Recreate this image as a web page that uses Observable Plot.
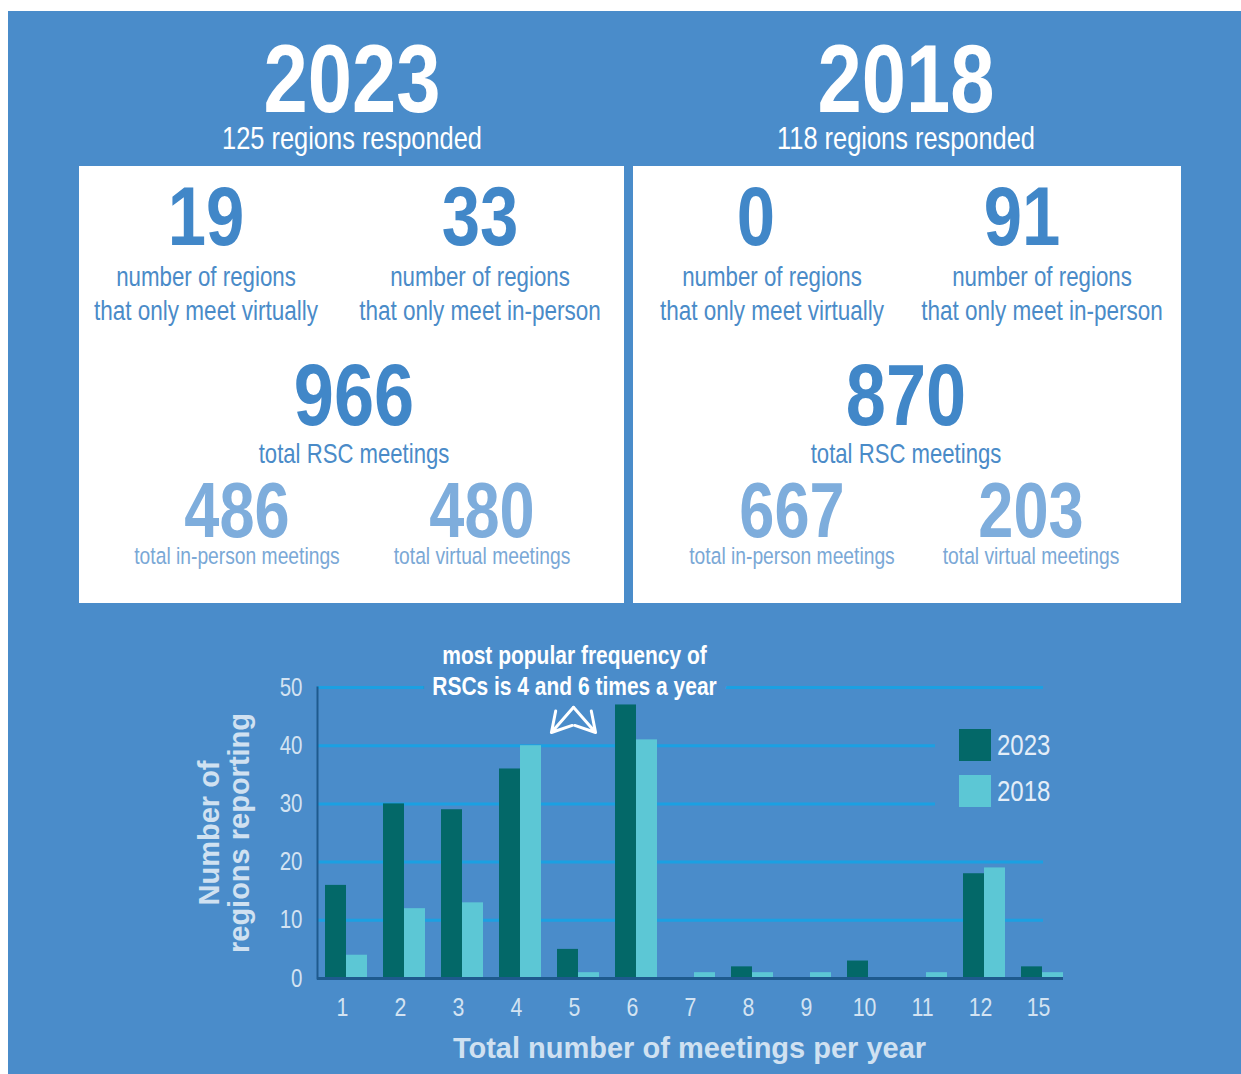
<!DOCTYPE html>
<html>
<head>
<meta charset="utf-8">
<script src="https://cdn.jsdelivr.net/npm/d3@7"></script>
<script src="https://cdn.jsdelivr.net/npm/@observablehq/plot@0.6"></script>
<style>
  html, body { margin: 0; padding: 0; background: #ffffff; width: 1241px; height: 1074px; overflow: hidden; }
  #bg { position: absolute; left: 8px; top: 11px; right: 0; bottom: 0; background: #4a8cca; }
  #header { position: absolute; left: 0; top: 0; }
  #chart { position: absolute; left: 170px; top: 600px; }
  .legend { position: absolute; font-family: "Liberation Sans", Arial, sans-serif; }
  .sw { position: absolute; width: 32px; height: 32px; }
  .lt { position: absolute; font-size: 30px; color: #e4eef8; line-height: 32px; transform: scaleX(0.8); transform-origin: left center; }
</style>
</head>
<body>
<div id="bg"></div>
<div id="header"></div>
<div id="chart"></div>
<div class="legend" id="legend"></div>
<script>
// ---------- data ----------
const years = ["2023", "2018"];
const respondedCounts = [125, 118];
const onlyVirtual = [19, 0];
const onlyInPerson = [33, 91];
const totalMeetings = [966, 870];
const inPersonMeetings = [486, 667];
const virtualMeetings = [480, 203];

const freqs = ["1", "2", "3", "4", "5", "6", "7", "8", "9", "10", "11", "12", "15"];
const regions2023 = [16, 30, 29, 36, 5, 47, 0, 2, 0, 3, 0, 18, 2];
const regions2018 = [4, 12, 13, 40, 1, 41, 1, 1, 1, 0, 1, 19, 1];
const yTicks = [0, 10, 20, 30, 40, 50];

const yLabel = "Number of\nregions reporting";
const xLabel = "Total number of meetings per year";
const annotation = [{x: "5", y: 50, text: "most popular frequency of\nRSCs is 4 and 6 times a year"}];
const arrowNotes = [
  {from: "5", y1: 46.6, to: "4", y2: 35.2},
  {from: "5", y1: 46.6, to: "6", y2: 35.2}
];

// ---------- styles ----------
const BG = "#4a8cca";
const COND = '"Liberation Sans", Arial, sans-serif';   // drawn narrowed (scaleX) to mimic a condensed face
const WIDE = 'Liberation Sans, sans-serif';            // drawn at normal width
const SX = 0.82;
const DARK = "#036868", LIGHT = "#5cc7d5";

// ---------- header (infographic text) ----------
const panels = [
  {x: 79, w: 545, title: 352, c1n: 206, c1l: 206, c2n: 480, c2l: 480, tot: 354, s1: 237, s2: 482},
  {x: 633, w: 548, title: 906, c1n: 756, c1l: 772, c2n: 1022, c2l: 1042, tot: 906, s1: 792, s2: 1031}
];
const svg = d3.select("#header").append("svg").attr("width", 1241).attr("height", 610);
panels.forEach((p, i) => {
  svg.append("rect").attr("x", p.x).attr("y", 166).attr("width", p.w).attr("height", 437).attr("fill", "#ffffff");
  const t = (x, y, s, size, weight, fill) =>
    svg.append("g").attr("transform", `translate(${x},${y}) scale(${SX},1)`)
      .append("text").attr("text-anchor", "middle")
      .attr("font-family", COND).attr("font-size", size).attr("font-weight", weight)
      .attr("fill", fill).text(s);
  t(p.title, 112, years[i], 97, "bold", "#ffffff");
  t(p.title, 149, `${respondedCounts[i]} regions responded`, 31, "normal", "#ffffff");
  t(p.c1n, 245, onlyVirtual[i], 84, "bold", "#4187c8");
  t(p.c2n, 245, onlyInPerson[i], 84, "bold", "#4187c8");
  t(p.c1l, 286, "number of regions", 27.2, "normal", "#4a8bc8");
  t(p.c1l, 320, "that only meet virtually", 27.5, "normal", "#4a8bc8");
  t(p.c2l, 286, "number of regions", 27.2, "normal", "#4a8bc8");
  t(p.c2l, 320, "that only meet in-person", 27.5, "normal", "#4a8bc8");
  t(p.tot, 425, totalMeetings[i], 88, "bold", "#4187c8");
  t(p.tot, 463, "total RSC meetings", 27, "normal", "#4a8bc8");
  t(p.s1, 537, inPersonMeetings[i], 77, "bold", "#7eaddc");
  t(p.s2, 537, virtualMeetings[i], 77, "bold", "#7eaddc");
  t(p.s1, 564, "total in-person meetings", 23.5, "normal", "#7aa8d6");
  t(p.s2, 564, "total virtual meetings", 23.5, "normal", "#7aa8d6");
});

// ---------- chart ----------
const data = freqs.flatMap((f, i) => [
  {freq: f, year: years[0], n: regions2023[i]},
  {freq: f, year: years[1], n: regions2018[i]}
]);
const gridColor = "#1ba0e2";
const noteStyle = {x: "x", y: "y", text: "text", dx: -4, dy: -18, fontSize: 25.6, fontWeight: "bold",
  lineHeight: 1.2, lineAnchor: "middle"};
const chart = Plot.plot({
  width: 921, height: 470,
  marginLeft: 147, marginRight: 20, marginTop: 87, marginBottom: 92,
  style: {background: "transparent", fontFamily: COND, color: "#d3e3f2", overflow: "visible"},
  x: {domain: freqs, paddingInner: 0.276, paddingOuter: 0.138, axis: null},
  y: {domain: [0, 50], axis: null},
  marks: [
    Plot.ruleY([10, 20, 50], {stroke: gridColor, strokeWidth: 3, insetRight: 28}),
    Plot.ruleY([30, 40], {stroke: gridColor, strokeWidth: 3, insetRight: 136}),
    Plot.text(annotation, {...noteStyle, fill: BG, stroke: BG, strokeWidth: 24}),
    Plot.text(annotation, {...noteStyle, fill: "#ffffff"}),
    Plot.barY(data.filter(d => d.year === years[0]), {x: "freq", y: "n", fill: DARK, insetRight: 21}),
    Plot.barY(data.filter(d => d.year === years[1]), {x: "freq", y: "n", fill: LIGHT, insetLeft: 21}),
    Plot.arrow(arrowNotes, {x1: "from", y1: "y1", x2: "to", y2: "y2", dx: -5, stroke: "#ffffff",
      strokeWidth: 3, headLength: 11, insetEnd: 54.6}),
    Plot.frame({anchor: "left", stroke: "#1e5a8e", strokeWidth: 2}),
    Plot.ruleY([0], {stroke: "#1e5a8e", strokeWidth: 3, insetRight: 8}),
    Plot.axisY({ticks: yTicks, tickSize: 0, tickPadding: 15, fontSize: 25, label: null, fill: "#d3e3f2"}),
    Plot.axisX({tickSize: 0, tickPadding: 19, fontSize: 26, label: null, dx: -4, fill: "#d3e3f2"}),
    Plot.text([yLabel], {frameAnchor: "left", textAnchor: "middle", rotate: -90, dx: -93, fontSize: 29,
      fontWeight: "bold", fontFamily: WIDE, fill: "#d0e1f1", lineHeight: 1.05, lineAnchor: "middle"}),
    Plot.text([xLabel], {frameAnchor: "bottom", dx: -5, dy: 70, fontSize: 29, fontWeight: "bold",
      fontFamily: WIDE, fill: "#d0e1f1", lineAnchor: "middle"})
  ]
});
// narrow the condensed-style texts (all but the two axis titles)
d3.select(chart).selectAll("text").each(function() {
  const fam = this.closest("[font-family]");
  if (fam && fam.getAttribute("font-family") === WIDE) return;
  const tr = this.getAttribute("transform") || "";
  this.setAttribute("transform", `${tr} scale(${SX},1)`);
});
document.getElementById("chart").appendChild(chart);

// ---------- legend ----------
const legend = document.getElementById("legend");
[DARK, LIGHT].forEach((c, i) => {
  const sw = document.createElement("div");
  sw.className = "sw"; sw.style.background = c;
  sw.style.left = "959px"; sw.style.top = (729 + i * 46) + "px";
  legend.appendChild(sw);
  const lt = document.createElement("div");
  lt.className = "lt"; lt.textContent = years[i];
  lt.style.left = "997px"; lt.style.top = (729 + i * 46) + "px";
  legend.appendChild(lt);
});
</script>
</body>
</html>
